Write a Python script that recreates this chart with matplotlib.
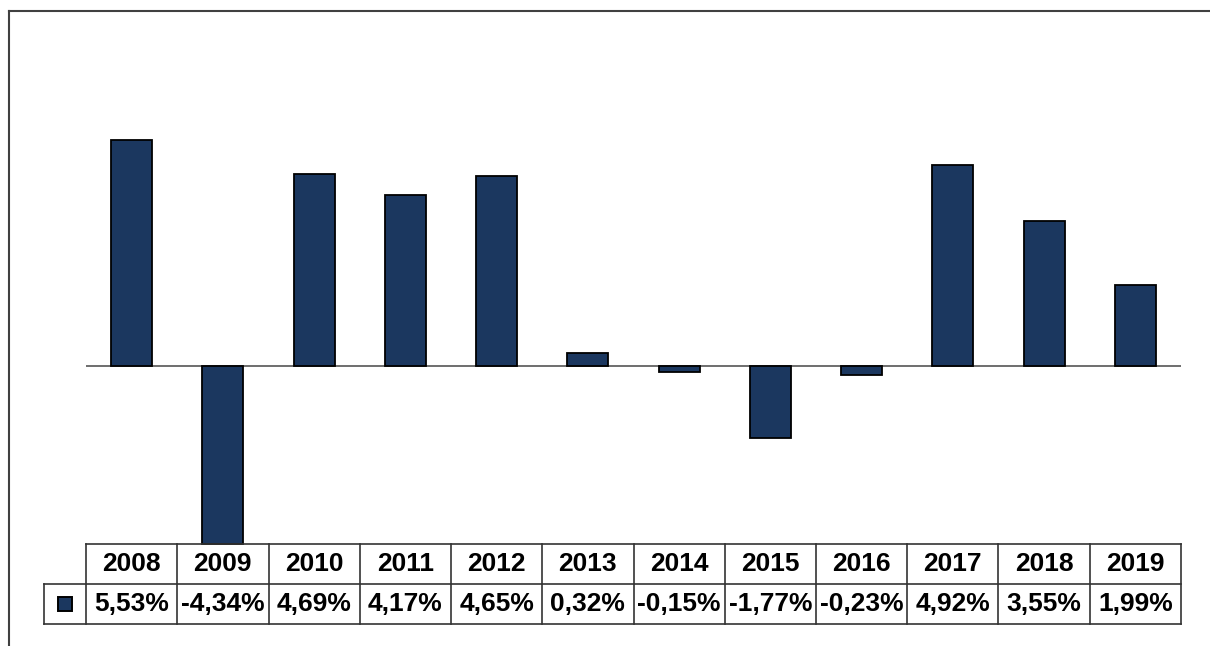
import matplotlib
matplotlib.use('Agg')
import matplotlib.pyplot as plt
from matplotlib.lines import Line2D
from matplotlib.patches import Rectangle

years = ['2008', '2009', '2010', '2011', '2012', '2013', '2014', '2015', '2016', '2017', '2018', '2019']
growth = [5.53, -4.34, 4.69, 4.17, 4.65, 0.32, -0.15, -1.77, -0.23, 4.92, 3.55, 1.99]

bar_color = '#1b375f'
plt.rcParams['font.family'] = ['Liberation Sans', 'DejaVu Sans']

W, H = 1210, 646
fig = plt.figure(figsize=(W / 100, H / 100), dpi=100)

# frame of the chart area (left + top only visible)
fig.add_artist(Line2D([9 / W, 9 / W], [0, 1 - 11 / H], color='#404040', lw=1.5))
fig.add_artist(Line2D([9 / W, 1], [1 - 11 / H, 1 - 11 / H], color='#404040', lw=1.5))

# main plot
ax = fig.add_axes([86 / W, (H - 546) / H, 1095 / W, 446 / H])
x = list(range(len(years)))
ax.bar(x, growth, width=0.45, color=bar_color, edgecolor='black', linewidth=1.3, zorder=3)
ax.axhline(0, color='#555555', lw=1.2, zorder=2)
ax.set_xlim(-0.5, len(years) - 0.5)
ax.set_ylim(-4.4, 6.5)
ax.axis('off')

# data table below
tax = fig.add_axes([44 / W, (H - 624) / H, 1137 / W, 80 / H])
leg_w = 42 / 91.25
tax.set_xlim(-0.5 - leg_w, len(years) - 0.5)
tax.set_ylim(0, 2)
tax.axis('off')

lc = '#333333'
lw = 1.2
# header row
tax.plot([-0.5, len(years) - 0.5], [2, 2], color=lc, lw=lw, clip_on=False)
tax.plot([-0.5 - leg_w, len(years) - 0.5], [1, 1], color=lc, lw=lw, clip_on=False)
tax.plot([-0.5 - leg_w, len(years) - 0.5], [0, 0], color=lc, lw=lw, clip_on=False)
for i in range(len(years) + 1):
    tax.plot([i - 0.5, i - 0.5], [0, 2], color=lc, lw=lw, clip_on=False)
tax.plot([-0.5 - leg_w, -0.5 - leg_w], [0, 1], color=lc, lw=lw, clip_on=False)

for i, (yr, v) in enumerate(zip(years, growth)):
    tax.text(i, 1.5, yr, ha='center', va='center', fontsize=19, fontweight='bold')
    lab = f'{v:.2f}%'.replace('.', ',')
    tax.text(i, 0.5, lab, ha='center', va='center', fontsize=19, fontweight='bold')

# legend key
kx = -0.5 - leg_w / 2
tax.add_patch(Rectangle((kx - 0.08, 0.32), 0.16, 0.36, facecolor=bar_color,
                        edgecolor='black', lw=1.4, clip_on=False))

fig.savefig('out.png', dpi=100)
